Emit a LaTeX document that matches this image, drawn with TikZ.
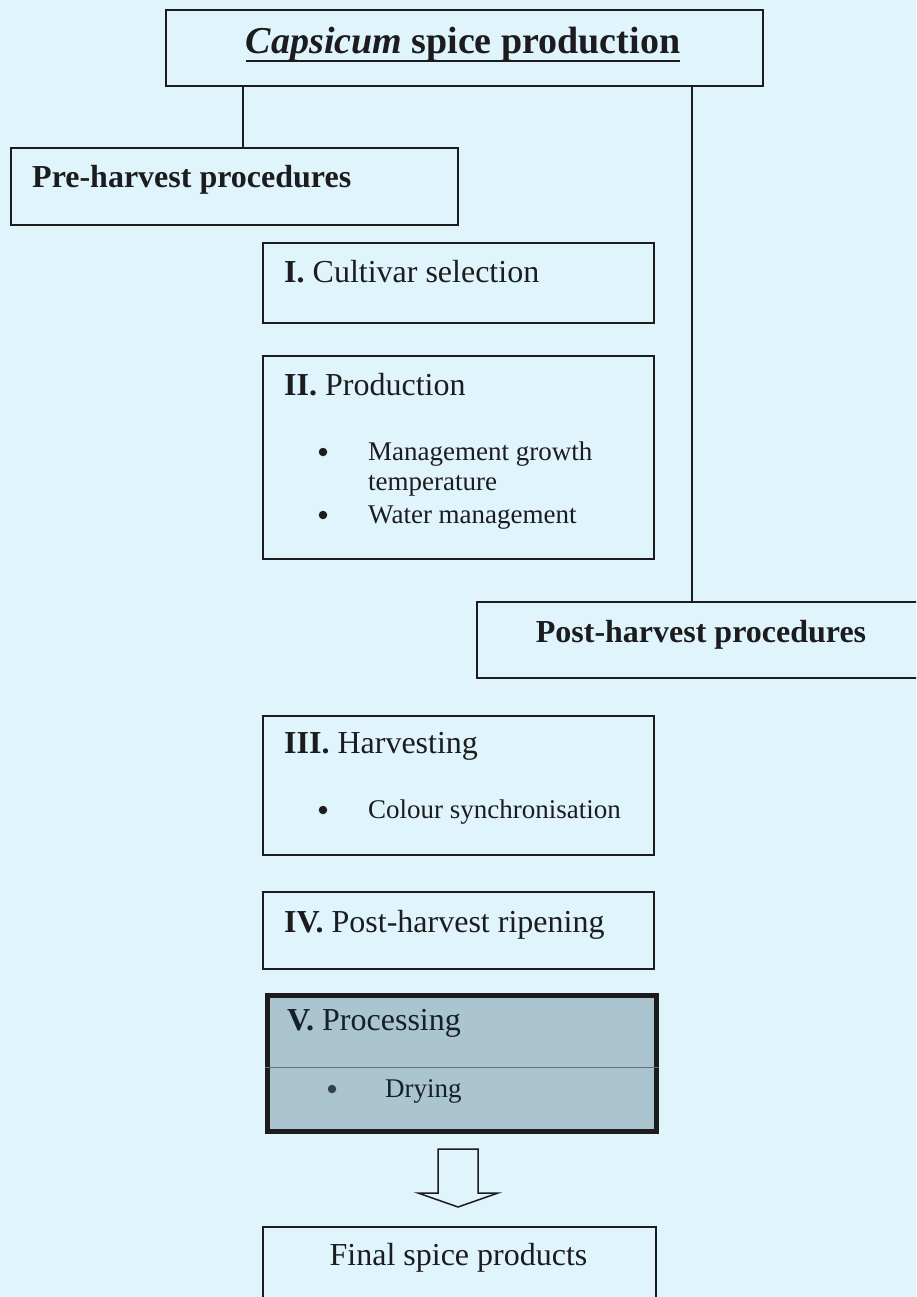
\documentclass[tikz,border=0pt]{standalone}
\usepackage{fontspec}
\setmainfont{Liberation Serif}
\definecolor{paper}{RGB}{224,244,252}
\definecolor{ink}{RGB}{28,28,30}
\definecolor{procfill}{RGB}{170,196,208}
\definecolor{procink}{RGB}{22,32,42}
\definecolor{rulegray}{RGB}{95,115,125}
\begin{document}
\begin{tikzpicture}[x=1pt,y=-1pt,
  box/.style={draw=ink, line width=1.8pt, rectangle, anchor=north west, inner sep=0pt},
  lbl/.style={anchor=base west, inner sep=0pt, text=ink, font=\fontsize{32}{36}\selectfont},
  sub/.style={anchor=base west, inner sep=0pt, text=ink, align=left, font=\fontsize{27}{30}\selectfont},
  dot/.style={circle, fill=ink, inner sep=0pt, minimum size=8.5pt},
  link/.style={draw=ink, line width=1.8pt}]
% page
\fill[paper] (0,0) rectangle (916,1297);
\clip (0,0) rectangle (916,1297);

% boxes
\node[box, minimum width=597pt, minimum height=76pt] (top) at (165,9) {};
\node[box, minimum width=447pt, minimum height=77pt] (pre) at (10,147) {};
\node[box, minimum width=391pt, minimum height=80pt] (cult) at (262,242) {};
\node[box, minimum width=391pt, minimum height=203pt] (prod) at (262,355) {};
\node[box, minimum width=460pt, minimum height=76pt] (post) at (476,601) {};
\node[box, minimum width=391pt, minimum height=139pt] (harv) at (262,715) {};
\node[box, minimum width=391pt, minimum height=77pt] (ripe) at (262,891) {};
\node[box, draw=ink, line width=5pt, fill=procfill, minimum width=389pt, minimum height=136pt] (proc) at (265,993) {};
\node[box, minimum width=393pt, minimum height=100pt] (final) at (262,1226) {};

% branch lines from the heading box
\coordinate (lx) at (243,0);
\coordinate (rx) at (692,0);
\draw[link] (top.south -| lx) -- (pre.north -| lx);
\draw[link] (top.south -| rx) -- (post.north -| rx);

% heading
\node[anchor=base, inner sep=0pt, text=ink, font=\fontsize{38}{44}\selectfont\bfseries] (title) at (463,54) {\textit{Capsicum} spice production};
\draw[ink, line width=2.6pt] ([yshift=-7pt]title.base west) -- ([yshift=-7pt]title.base east);

% phase headings
\node[lbl, font=\fontsize{32}{36}\selectfont\bfseries] (pretext) at (32,188) {Pre-harvest procedures};
\node[lbl, anchor=base, font=\fontsize{32}{36}\selectfont\bfseries] (posttext) at (701,642) {Post-harvest procedures};

% I
\node[lbl] (cultt) at (284,282) {\textbf{I.} Cultivar selection};
% II
\node[lbl] (prodt) at (284,395) {\textbf{II.} Production};
\node[dot] (d1) at (323,452) {};
\node[sub] (s1) at (368,490) {Management growth\\temperature};
\node[dot] (d2) at (323,515) {};
\node[sub] (s2) at (368,523) {Water management};
% III
\node[lbl] (harvt) at (284,753) {\textbf{III.} Harvesting};
\node[dot] (d3) at (323,810) {};
\node[sub] (s3) at (368,818) {Colour synchronisation};
% IV
\node[lbl] (ripet) at (284,932) {\textbf{IV.} Post-harvest ripening};
% V
\draw[rulegray, line width=1pt] (proc.west |- 0,1067) -- (proc.east |- 0,1067);
\node[lbl, text=procink] (proct) at (287,1030) {\textbf{V.} Processing};
\node[dot, fill=procink!80!procfill] (d4) at (332,1089) {};
\node[sub, text=procink] (s4) at (385,1097) {Drying};

% hollow block arrow
\draw[ink, line width=1.5pt, fill=paper, line join=miter]
  (438,1149) -- (478,1149) -- (478,1193) -- (498,1193) -- (458,1207)
  -- (418,1193) -- (438,1193) -- cycle;

% final
\node[lbl, anchor=base] (finalt) at (458.5,1265) {Final spice products};
\end{tikzpicture}
\end{document}
